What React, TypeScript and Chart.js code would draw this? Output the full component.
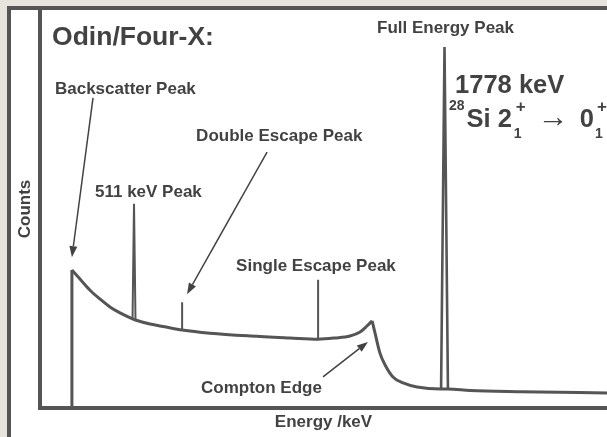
import React, { useEffect, useRef } from "react";
import { Chart, registerables } from "chart.js";

Chart.register(...registerables);

// Schematic gamma-ray spectrum (x: energy in keV, y: counts, arbitrary units)
const lowEnergies = [260, 293, 334, 374, 415, 456, 507, 519, 578, 639, 709, 823, 986, 1149, 1263, 1332, 1393, 1434, 1462, 1483];
const lowCounts = [347, 324, 296, 274, 254, 239, 224, 221, 211, 204, 196, 188, 181, 176, 173, 176, 181, 191, 206, 219];
const highEnergies = [1483, 1495, 1515, 1536, 1568, 1609, 1666, 1764, 1792, 1882, 2086, 2440];
const highCounts = [219, 188, 138, 108, 78, 63, 53, 48, 48, 44, 41, 38];

// Backscatter edge
const backscatterEnergy = 260;
const backscatterTop = 347;

// Peaks: 511 keV, double escape, single escape, full energy
const peakEnergies = [513, 709, 1263, 1778];
const peakHalfWidths = [6, 0, 0, 14];
const peakTops = [513, 266, 322, 907];
const peakBases = [222, 196, 173, 48];

// Annotation labels (anchored in data units)
const labelTexts = ["Backscatter Peak", "511 keV Peak", "Double Escape Peak", "Single Escape Peak", "Compton Edge", "Full Energy Peak"];
const labelEnergies = [191, 354, 766, 929, 786, 1503];
const labelCounts = [789, 530, 671, 344, 38, 942];

// Arrows (from -> to, data units)
const arrowFromE = [346, 1055, 1283];
const arrowFromC = [779, 643, 78];
const arrowToE = [260, 729, 1466];
const arrowToC = [379, 286, 166];

const titleText = "Odin/Four-X:";
const titleE = 179;
const titleC = 912;
const energyText = "1778 keV";
const energyE = 1821;
const energyC = 791;
const transitionE = 1796;
const transitionC = 706;

const FONT = '"Liberation Sans", Arial, Helvetica, sans-serif';
const INK = "#424242";
const LINE = "#555555";

const annotationPlugin = {
  id: "annotations",
  afterDraw(chart: any) {
    const ctx = chart.ctx as CanvasRenderingContext2D;
    const xs = chart.scales.x;
    const ys = chart.scales.y;
    const X = (v: number) => xs.getPixelForValue(v);
    const Y = (v: number) => ys.getPixelForValue(v);
    ctx.save();
    ctx.fillStyle = INK;
    ctx.strokeStyle = INK;
    const txt = (s: string, x: number, y: number, size: number, weight = "bold") => {
      ctx.font = `${weight} ${size}px ${FONT}`;
      ctx.textAlign = "left";
      ctx.textBaseline = "alphabetic";
      ctx.fillText(s, x, y);
      return ctx.measureText(s).width;
    };
    txt(titleText, X(titleE), Y(titleC), 26.5);
    labelTexts.forEach((t, i) => txt(t, X(labelEnergies[i]), Y(labelCounts[i]), 17));
    txt(energyText, X(energyE), Y(energyC), 25.5);

    // 28Si 2_1^+ -> 0_1^+
    let cx = X(transitionE);
    const base = Y(transitionC);
    cx += txt("28", cx, base - 17, 14) + 2;
    cx += txt("Si 2", cx, base, 25.5) + 2;
    const w1 = txt("1", cx, base + 11, 14);
    const w2 = txt("+", cx + 2, base - 15, 17);
    cx += Math.max(w1, w2 + 2) + 12;
    cx += txt("\u2192", cx, base, 31, "normal") + 11;
    cx += txt("0", cx, base, 25.5) + 1;
    txt("1", cx, base + 11, 14);
    txt("+", cx + 2, base - 15, 17);

    // arrows
    ctx.lineWidth = 1.5;
    arrowFromE.forEach((_, i) => {
      const x1 = X(arrowFromE[i]), y1 = Y(arrowFromC[i]);
      const x2 = X(arrowToE[i]), y2 = Y(arrowToC[i]);
      const a = Math.atan2(y2 - y1, x2 - x1);
      const L = 11, W = 4;
      const bx = x2 - L * Math.cos(a), by = y2 - L * Math.sin(a);
      ctx.beginPath();
      ctx.moveTo(x1, y1);
      ctx.lineTo(bx, by);
      ctx.stroke();
      ctx.beginPath();
      ctx.moveTo(x2, y2);
      ctx.lineTo(bx + W * Math.sin(a), by - W * Math.cos(a));
      ctx.lineTo(bx - W * Math.sin(a), by + W * Math.cos(a));
      ctx.closePath();
      ctx.fill();
    });
    ctx.restore();
  },
};

export default function App() {
  const ref = useRef<HTMLCanvasElement | null>(null);
  useEffect(() => {
    if (!ref.current) return;
    const datasets: any[] = [
      {
        label: "continuum-low",
        data: lowEnergies.map((e, i) => ({ x: e, y: lowCounts[i] })),
        borderColor: LINE,
        borderWidth: 3,
        pointRadius: 0,
        cubicInterpolationMode: "monotone",
        fill: false,
      },
      {
        label: "continuum-high",
        data: highEnergies.map((e, i) => ({ x: e, y: highCounts[i] })),
        borderColor: LINE,
        borderWidth: 3,
        pointRadius: 0,
        cubicInterpolationMode: "monotone",
        fill: false,
      },
      {
        label: "backscatter",
        data: [
          { x: backscatterEnergy, y: 0 },
          { x: backscatterEnergy, y: backscatterTop },
        ],
        borderColor: LINE,
        borderWidth: 3,
        pointRadius: 0,
        tension: 0,
      },
      ...peakEnergies.map((e, i) => ({
        label: "peak" + i,
        data: [
          { x: e - peakHalfWidths[i], y: peakBases[i] },
          { x: e, y: peakTops[i] },
          { x: e + peakHalfWidths[i], y: peakBases[i] },
        ],
        borderColor: LINE,
        borderWidth: i === 3 ? 2.6 : 2,
        pointRadius: 0,
        tension: 0,
      })),
    ];
    const chart = new Chart(ref.current, {
      type: "line",
      data: { datasets },
      options: {
        responsive: false,
        devicePixelRatio: 1,
        animation: false,
        parsing: false as any,
        layout: { padding: { left: 0, top: 10, right: 0, bottom: 0 } },
        plugins: { legend: { display: false }, tooltip: { enabled: false } },
        scales: {
          x: {
            type: "linear",
            min: 130,
            max: 2440,
            ticks: { display: false },
            grid: { display: false, drawTicks: false },
            border: { display: true, width: 4, color: LINE },
            title: {
              display: true,
              text: "Energy /keV",
              color: INK,
              font: { family: FONT, size: 17, weight: "bold" },
              padding: { top: 3.8, bottom: 4.8 },
            },
          },
          y: {
            type: "linear",
            min: 0,
            max: 1000,
            ticks: { display: false },
            grid: { display: false, drawTicks: false },
            border: { display: true, width: 4, color: LINE },
            title: {
              display: true,
              text: "Counts",
              color: INK,
              font: { family: FONT, size: 17, weight: "bold" },
              padding: { top: 14.8, bottom: 4.8 },
            },
          },
        },
      },
      plugins: [annotationPlugin],
    });
    return () => chart.destroy();
  }, []);

  return (
    <div
      style={{
        position: "fixed",
        left: 0,
        top: 0,
        width: 607,
        height: 437,
        background: "#e7e4dd",
        overflow: "hidden",
      }}
    >
      <div
        style={{
          position: "absolute",
          left: 7,
          top: 6,
          width: 700,
          height: 500,
          background: "#ffffff",
          borderTop: "4px solid #555555",
          borderLeft: "4px solid #555555",
        }}
      />
      <canvas
        ref={ref}
        width={607}
        height={437}
        style={{ position: "absolute", left: 0, top: 0, width: 607, height: 437 }}
      />
    </div>
  );
}
